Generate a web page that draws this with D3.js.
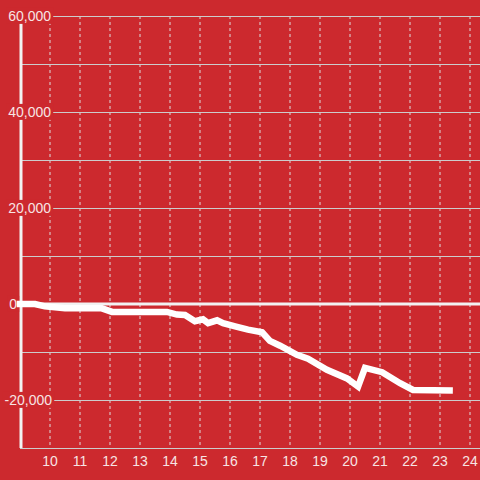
<!DOCTYPE html>
<html>
<head>
<meta charset="utf-8">
<script src="https://cdn.jsdelivr.net/npm/d3@7"></script>
<style>
  html, body { margin: 0; padding: 0; background: #cc292e; }
  svg { display: block; font-family: "Liberation Sans", Arial, sans-serif; }
</style>
</head>
<body>
<div id="chart"></div>
<script>
// hours of the day and running balance
var hours = [9.0, 9.5, 9.83, 10.5, 11.73, 12.07, 13.9, 14.23, 14.5, 14.83, 15.1, 15.27, 15.57, 15.77,
             16.17, 16.6, 17.07, 17.33, 17.67, 18.23, 18.6, 19.23, 19.9, 20.27, 20.5, 21.07, 21.67, 22.1, 23.32];
var balance = [0, 0, -500, -900, -900, -1650, -1650, -2200, -2300, -3600, -3200, -4000, -3400, -4000,
               -4650, -5350, -5900, -7700, -8700, -10600, -11400, -13700, -15500, -17200, -13300, -14200, -16500, -17900, -18000];
var xTicks = [10, 11, 12, 13, 14, 15, 16, 17, 18, 19, 20, 21, 22, 23, 24];
var yGrid = [-30000, -20000, -10000, 0, 10000, 20000, 30000, 40000, 50000, 60000];
var yLabels = [-20000, 0, 20000, 40000, 60000];

var width = 480, height = 480;
var margin = {left: 20, top: 16, bottom: 448};

var svg = d3.select("#chart").append("svg")
  .attr("width", width)
  .attr("height", height);

var x = d3.scaleLinear().domain([9, 9 + (width - margin.left) / 30]).range([margin.left, width]);
var y = d3.scaleLinear().domain([-30000, 60000]).range([margin.bottom, margin.top]);
var fmt = function(v) { return d3.format(",")(v).replace("\u2212", "-"); };

// vertical dashed grid
svg.selectAll(".vgrid").data(xTicks).enter().append("line")
  .attr("x1", function(d) { return x(d); })
  .attr("x2", function(d) { return x(d); })
  .attr("y1", margin.top)
  .attr("y2", margin.bottom)
  .style("stroke", "#ddd")
  .style("stroke-width", 1)
  .style("stroke-dasharray", "3,3");

// horizontal grid
svg.selectAll(".hgrid").data(yGrid.filter(function(d) { return d !== 0; })).enter().append("line")
  .attr("x1", margin.left)
  .attr("x2", width)
  .attr("y1", function(d) { return y(d) + 0.5; })
  .attr("y2", function(d) { return y(d) + 0.5; })
  .style("stroke", "#ccc")
  .style("stroke-width", 1);

// zero line
svg.append("line")
  .attr("x1", margin.left)
  .attr("x2", width)
  .attr("y1", y(0))
  .attr("y2", y(0))
  .style("stroke", "#f2f2f2")
  .style("stroke-width", 3);

// y axis line
svg.append("line")
  .attr("x1", margin.left + 1)
  .attr("x2", margin.left + 1)
  .attr("y1", margin.top)
  .attr("y2", margin.bottom)
  .style("stroke", "#f2f2f2")
  .style("stroke-width", 3);

// y labels with red backing (the zero label sits left of the axis)
var yl = svg.selectAll(".ylab").data(yLabels).enter().append("g")
  .attr("transform", function(d) {
    var ex = d === 0 ? 17 : (d < 0 ? 52 : 51);
    return "translate(" + ex + "," + y(d) + ")";
  });
yl.append("text")
  .attr("text-anchor", "end")
  .attr("dy", "0.35em")
  .style("font-size", "14px")
  .style("fill", "#f7e4e4")
  .text(fmt);
yl.each(function() {
  var g = d3.select(this);
  var b = g.select("text").node().getBBox();
  g.insert("rect", "text")
    .attr("x", b.x - 2)
    .attr("y", b.y)
    .attr("width", b.width + 4)
    .attr("height", b.height)
    .style("fill", "#cc292e");
});

// x labels
svg.selectAll(".xlab").data(xTicks).enter().append("text")
  .attr("x", function(d) { return x(d); })
  .attr("y", 466)
  .attr("text-anchor", "middle")
  .style("font-size", "14px")
  .style("fill", "#f7e4e4")
  .text(function(d) { return d; });

// balance line
var line = d3.line()
  .x(function(d, i) { return x(hours[i]); })
  .y(function(d) { return y(d); });

svg.append("path")
  .datum(balance)
  .attr("d", line)
  .style("fill", "none")
  .style("stroke", "#fff")
  .style("stroke-width", 6.5)
  .style("stroke-linecap", "square")
  .style("stroke-linejoin", "miter");
</script>
</body>
</html>
